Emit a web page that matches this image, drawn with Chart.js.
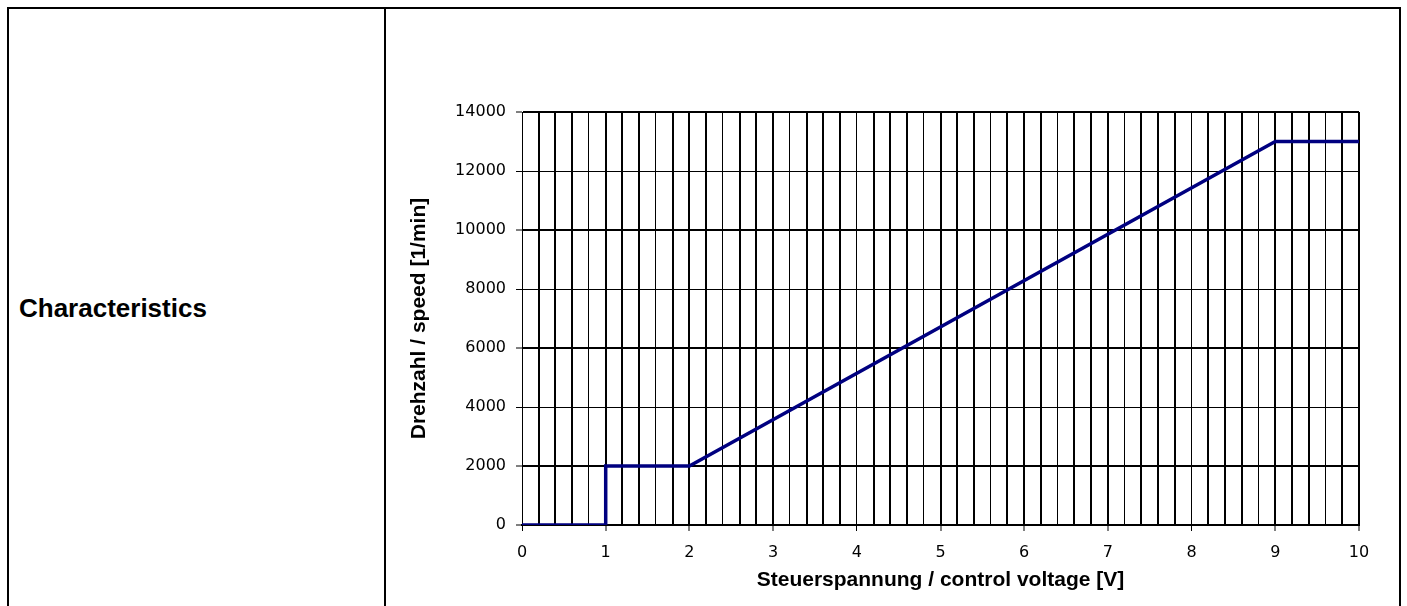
<!DOCTYPE html>
<html>
<head>
<meta charset="utf-8">
<script src="https://cdn.jsdelivr.net/npm/chart.js@4.4.1/dist/chart.umd.min.js"></script>
<style>
  html, body { margin: 0; padding: 0; background: #fff; }
  body { width: 1407px; height: 606px; position: relative; overflow: hidden; }
  .line { position: absolute; background: #000; }
  #label {
    position: absolute; left: 19px; top: 293px;
    font: bold 26px "Liberation Sans", Arial, sans-serif; color: #000;
  }
  #chart { position: absolute; left: 0; top: 0; }
</style>
</head>
<body>
<div class="line" style="left:7px; top:7px; width:1394px; height:2px;"></div>
<div class="line" style="left:7px; top:7px; width:2px; height:600px;"></div>
<div class="line" style="left:384px; top:7px; width:2px; height:600px;"></div>
<div class="line" style="left:1399px; top:7px; width:2px; height:600px;"></div>
<div id="label">Characteristics</div>
<canvas id="chart" width="1407" height="606"></canvas>
<script>
// control voltage [V] vs speed [1/min]
const voltage = [0, 1, 1, 2, 9, 10];
const speed = [0, 0, 2000, 2000, 13000, 13000];

const xMin = 0, xMax = 10, xStep = 0.2;
const yMin = 0, yMax = 14000, yStep = 2000;

const xTitle = 'Steuerspannung / control voltage [V]';
const yTitle = 'Drehzahl / speed [1/min]';

const isWhole = v => Math.abs(v - Math.round(v)) < 1e-6;

const ctx = document.getElementById('chart').getContext('2d');
new Chart(ctx, {
    type: 'line',
    data: {
        datasets: [{
            data: voltage.map((v, i) => ({ x: v, y: speed[i] })),
            borderColor: '#000080',
            borderWidth: 3.5,
            pointRadius: 0,
            tension: 0,
            fill: false
        }]
    },
    options: {
        responsive: false,
        animation: false,
        devicePixelRatio: 1,
        layout: { padding: { left: 400, right: 48, top: 112, bottom: 0 } },
        plugins: {
            legend: { display: false },
            tooltip: { enabled: false }
        },
        scales: {
            x: {
                type: 'linear',
                min: xMin,
                max: xMax,
                afterFit: scale => { scale.height = 81; },
                border: { display: true, color: '#000', width: 2 },
                grid: {
                    color: '#000',
                    lineWidth: c => (c.index % 4 === 0 ? 1 : 2),
                    tickLength: 6,
                    tickWidth: 1,
                    tickColor: c => (c.tick && isWhole(c.tick.value) ? '#000' : 'rgba(0,0,0,0)')
                },
                ticks: {
                    stepSize: xStep,
                    maxTicksLimit: 100,
                    autoSkip: false,
                    maxRotation: 0,
                    padding: 12,
                    color: '#000',
                    font: { family: 'DejaVu Sans', size: 16 },
                    callback: v => (isWhole(v) ? String(Math.round(v)) : '')
                },
                title: {
                    display: true,
                    text: xTitle,
                    color: '#000',
                    font: { family: 'Liberation Sans', size: 21, weight: 'bold' },
                    padding: { top: 0, bottom: 13 }
                }
            },
            y: {
                min: yMin,
                max: yMax,
                afterFit: scale => { scale.width = 122; },
                border: { display: true, color: '#000', width: 1 },
                grid: {
                    color: '#000',
                    lineWidth: c => (c.index === 0 || c.index % 2 === 1 ? 2 : 1),
                    tickLength: 6,
                    tickWidth: 1,
                    tickColor: '#000'
                },
                ticks: {
                    stepSize: yStep,
                    padding: 10,
                    color: '#000',
                    font: { family: 'DejaVu Sans', size: 16 },
                    callback: v => String(Math.round(v))
                },
                title: {
                    display: true,
                    text: yTitle,
                    color: '#000',
                    font: { family: 'Liberation Sans', size: 21, weight: 'bold' },
                    padding: { top: 7, bottom: 0 }
                }
            }
        }
    }
});
</script>
</body>
</html>
